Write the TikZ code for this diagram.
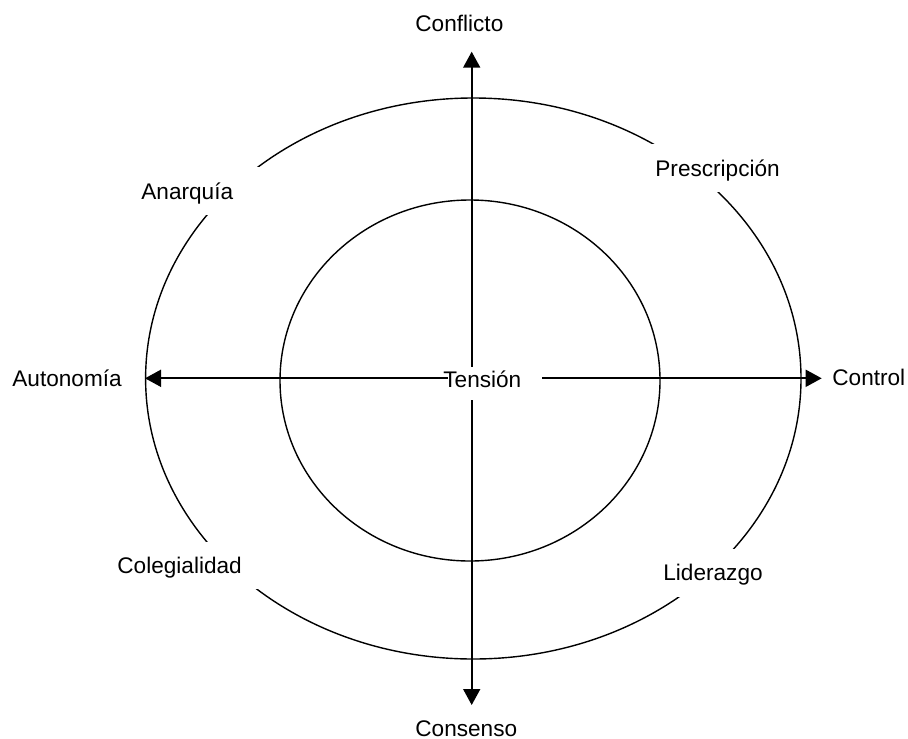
\documentclass[tikz,border=0pt]{standalone}
\usepackage{fontspec}
\setmainfont{Liberation Sans}
\usetikzlibrary{arrows.meta}
\tikzset{
  lbl/.style={anchor=base west, inner sep=0pt, font=\fontsize{11.3}{13.6}\selectfont},
  cover/.style={fill=white, draw=none},
  ring/.style={line width=0.7pt},
  axis/.style={line width=0.85pt, {Triangle[length=8pt,width=8.5pt]}-{Triangle[length=8pt,width=8.5pt]}}
}
\begin{document}
\begin{tikzpicture}[x=0.5pt,y=-0.5pt]
\useasboundingbox (0,0) rectangle (908,738);
% rings
\draw[ring] (473.3,378.5) ellipse [x radius=327.7, y radius=280.5];
\draw[ring] (470,380.5) ellipse [x radius=190, y radius=180.5];
% axes
\coordinate (top) at (471.7,51.7);
\coordinate (bottom) at (471.7,705);
\coordinate (left) at (145,378.3);
\coordinate (right) at (821.7,378.3);
\draw[axis] (top) -- (bottom);
\draw[axis] (left) -- (right);
% white covers
\fill[cover] (131,167) rectangle (260,215);
\fill[cover] (645,144) rectangle (795,192);
\fill[cover] (107,542) rectangle (260,589);
\fill[cover] (653,549) rectangle (780,597);
\fill[cover] (448,366.7) rectangle (541.7,400);
% labels
\node[lbl] (conflicto) at (415,32) {Conflicto};
\node[lbl] (consenso) at (415,736) {Consenso};
\node[lbl] (autonomia) at (12,386) {Autonomía};
\node[lbl] (control) at (832,385) {Control};
\node[lbl] (tension) at (443,387) {Tensión};
\node[lbl] (anarquia) at (141,199) {Anarquía};
\node[lbl] (prescripcion) at (655,176) {Prescripción};
\node[lbl] (colegialidad) at (117,573) {Colegialidad};
\node[lbl] (liderazgo) at (663,580) {Liderazgo};
\end{tikzpicture}
\end{document}
